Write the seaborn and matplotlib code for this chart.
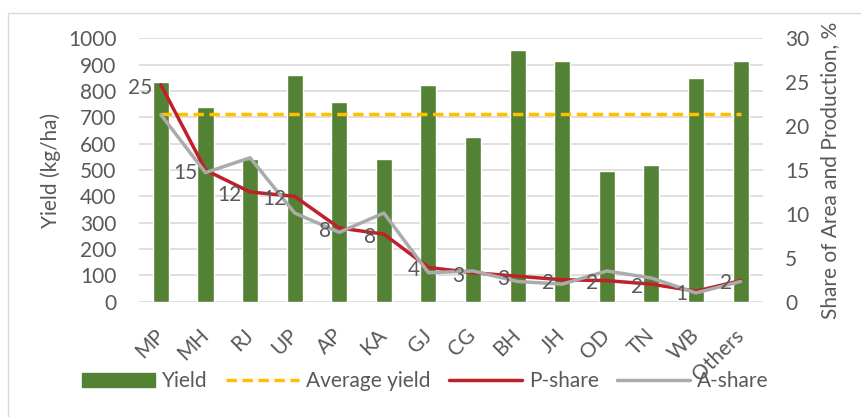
import numpy as np
import pandas as pd
import seaborn as sns
import matplotlib.pyplot as plt
from matplotlib.patches import Patch, Rectangle
from matplotlib.lines import Line2D

# values
states = ['MP', 'MH', 'RJ', 'UP', 'AP', 'KA', 'GJ', 'CG', 'BH', 'JH', 'OD', 'TN', 'WB', 'Others']
yield_kg_ha = [835, 738, 540, 862, 757, 543, 822, 625, 955, 915, 495, 520, 850, 915]
average_yield = 711
p_share = [24.7, 15.0, 12.5, 12.0, 8.4, 7.7, 3.9, 3.3, 2.9, 2.5, 2.4, 2.0, 1.2, 2.4]
a_share = [21.3, 14.7, 16.4, 10.1, 7.9, 10.1, 3.3, 3.5, 2.3, 2.0, 3.5, 2.7, 1.0, 2.3]

df = pd.DataFrame({'state': states, 'yield': yield_kg_ha,
                   'avg': [average_yield] * len(states),
                   'p_share': p_share, 'a_share': a_share})
df['pos'] = np.arange(len(df))

sns.set_style('white')
plt.rcParams['font.family'] = ['Lato', 'DejaVu Sans']
txt = '#595959'
green = '#548235'
yellow = '#FFC000'
red = '#C0202A'
grey = '#ABABAB'
fs = 15

fig = plt.figure(figsize=(8.61, 4.17), dpi=100)
ax = fig.add_axes([0.161, 0.2765, 0.725, 0.6315])

sns.barplot(x='pos', y='yield', data=df, color=green, width=0.36,
            saturation=1, ax=ax, native_scale=True)
sns.lineplot(x='pos', y='avg', data=df, color=yellow, lw=2.5,
             linestyle=(0, (3, 1.6)), ax=ax)
ax.set_ylim(0, 1000)
ax.set_xlim(-0.5, len(df) - 0.5)
ax.set_yticks(range(0, 1001, 100))
ax.yaxis.grid(True, color='#D9D9D9', lw=1.2)
ax.set_axisbelow(True)
ax.set_xticks(df['pos'])
ax.set_xticklabels(states, rotation=45, ha='right', va='center', rotation_mode='anchor')
ax.tick_params(axis='y', colors=txt, labelsize=fs, length=0, pad=16)
ax.tick_params(axis='x', colors=txt, labelsize=fs, length=0, pad=22)
ax.set_xlabel('')
ax.set_ylabel('Yield (kg/ha)', color=txt, fontsize=fs, va='center')
ax.yaxis.set_label_coords(-0.141, 0.5)

ax2 = ax.twinx()
sns.lineplot(x='pos', y='p_share', data=df, color=red, lw=2.5, ax=ax2)
sns.lineplot(x='pos', y='a_share', data=df, color=grey, lw=2.5, ax=ax2)
ax2.set_ylim(0, 30)
ax2.set_yticks(range(0, 31, 5))
ax2.tick_params(axis='y', colors=txt, labelsize=fs, length=0, pad=16)
ax2.set_ylabel('Share of Area and Production, %', color=txt, fontsize=fs, va='center')
ax2.yaxis.set_label_coords(1.107, 0.5)
ax2.set_xlim(-0.5, len(df) - 0.5)

for x, v in zip(df['pos'], df['p_share']):
    ax2.annotate(f'{round(v)}', (x, v), xytext=(-6, -2), textcoords='offset points',
                 ha='right', va='center', color=txt, fontsize=fs)

for a in (ax, ax2):
    for s in a.spines.values():
        s.set_visible(False)

handles = [Patch(color=green),
           Line2D([], [], color=yellow, lw=2.5, linestyle=(0, (3, 1.6))),
           Line2D([], [], color=red, lw=2.5),
           Line2D([], [], color=grey, lw=2.5)]
labels = ['Yield', 'Average yield', 'P-share', 'A-share']
fig.legend(handles, labels, loc='center', bbox_to_anchor=(0.494, 0.086), ncol=4,
           frameon=False, fontsize=fs, labelcolor=txt, handlelength=3.5,
           handleheight=0.7, columnspacing=0.87, handletextpad=0.34)

# chart border (only left and top edges fall inside the picture)
fig.add_artist(Rectangle((8 / 861, -0.05), 1.1, 1.05 - 13 / 417,
                         transform=fig.transFigure, fill=False,
                         edgecolor='#D9D9D9', lw=1))

fig.savefig('out.png', dpi=100)
plt.close(fig)
